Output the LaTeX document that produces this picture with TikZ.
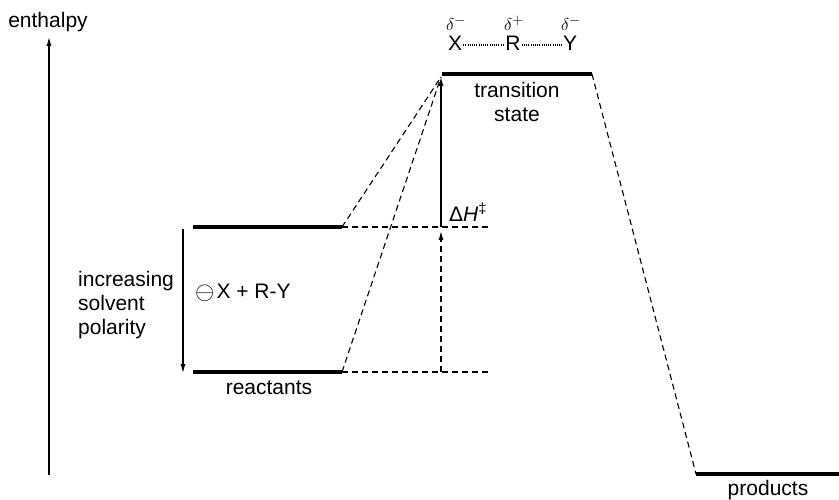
\documentclass[tikz,border=0pt]{standalone}
\usepackage{fontspec}
\setmainfont{Liberation Sans}
\usetikzlibrary{arrows.meta}
\begin{document}
\begin{tikzpicture}[x=1pt,y=-1pt,
  level/.style={line width=4pt},
  thin/.style={line width=1.1pt},
  dashline/.style={line width=1.1pt,dash pattern=on 6pt off 4pt},
  dotline/.style={line width=1.5pt,dash pattern=on 1pt off 1.2pt},
  tip/.style={-{Latex[length=9pt,width=5pt]}},
  lbl/.style={inner sep=0pt,font=\fontsize{21}{24}\selectfont},
  dlbl/.style={inner sep=0pt,font=\fontsize{19}{21}\selectfont}]
\useasboundingbox (0,0) rectangle (839,500);
% level end points
\coordinate (u1) at (193,227); \coordinate (u2) at (342,227);
\coordinate (l1) at (193,372); \coordinate (l2) at (342,372);
\coordinate (t1) at (442,74);  \coordinate (t2) at (592,74);
\coordinate (p1) at (696,474); \coordinate (p2) at (839,474);
\coordinate (ax0) at (49,475); \coordinate (ax1) at (49,37);
\coordinate (sp0) at (183,229); \coordinate (sp1) at (183,373);
\coordinate (uh) at (488,227); \coordinate (lh) at (488,372);
\coordinate (dh0) at (441,227); \coordinate (dh1) at (441,77);
\coordinate (dl0) at (441,372); \coordinate (dl1) at (441,231);
\coordinate (tin) at (441,77);
% axis
\draw[thin,tip] (ax0) -- (ax1);
\node[lbl] (enth) at (48,22) {enthalpy};
% levels
\draw[level] (u1) -- (u2);
\draw[level] (l1) -- (l2);
\draw[level] (t1) -- (t2);
\draw[level] (p1) -- (p2);
% solvent polarity arrow
\draw[thin,tip] (sp0) -- (sp1);
\node[lbl,align=left,anchor=west] (pol) at (78,305) {increasing\\solvent\\polarity};
\node[lbl,anchor=west] (react) at (195,293) {\raisebox{-1.5pt}{\fontsize{33}{33}\selectfont$\ominus$}\kern2pt X + R-Y};
\node[lbl] (reactants) at (269,388) {reactants};
\node[lbl,align=center] (ts) at (517,102) {transition\\state};
\node[lbl] (prod) at (768,490) {products};
% dashed connectors
\draw[dashline] (u2) -- (uh);
\draw[dashline] (l2) -- (lh);
\draw[dashline] (u2) -- (tin);
\draw[dashline] (l2) -- (tin);
\draw[dashline] (t2) -- (p1);
% enthalpy of activation
\draw[thin,tip] (dh0) -- (dh1);
\draw[dashline,tip] (dl0) -- (dl1);
\node[lbl,anchor=west] (dH) at (449,212) {Δ\textit{H}\textsuperscript{‡}};
% transition state structure
\node[lbl] (X) at (455,43) {X};
\node[lbl] (R) at (513,43) {R};
\node[lbl] (Y) at (570,43) {Y};
\draw[dotline] ([xshift=1pt,yshift=-2pt]X.east) -- ([xshift=-1pt,yshift=-2pt]R.west);
\draw[dotline] ([xshift=1pt,yshift=-2pt]R.east) -- ([xshift=-1pt,yshift=-2pt]Y.west);
\node[dlbl] (dX) at (456,23) {$\delta^-$};
\node[dlbl] (dR) at (514,23) {$\delta^+$};
\node[dlbl] (dY) at (571,23) {$\delta^-$};
\end{tikzpicture}
\end{document}
